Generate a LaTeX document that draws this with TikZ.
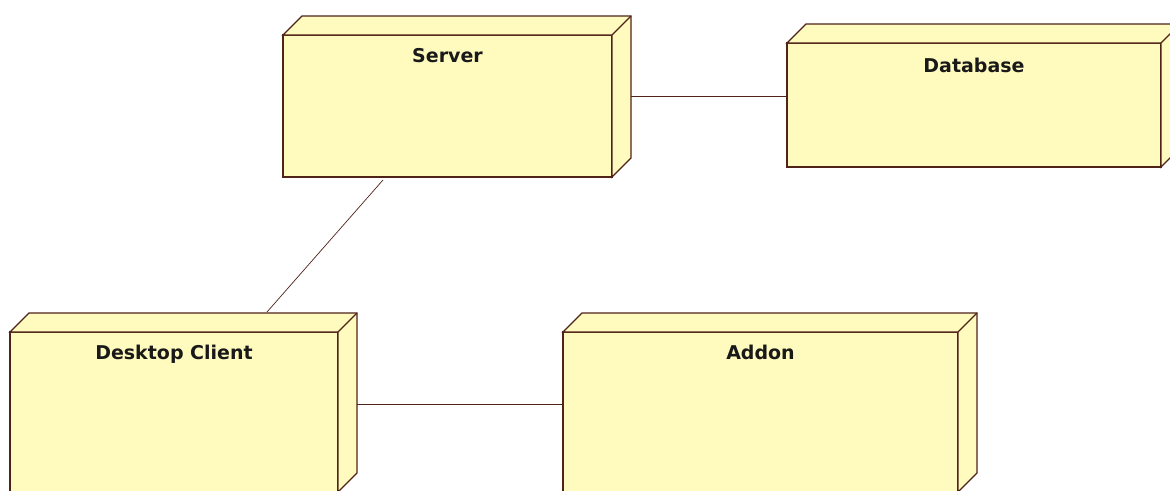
\documentclass[tikz,border=0pt]{standalone}
\usepackage{fontspec}
\setmainfont{DejaVu Sans}
\usetikzlibrary{calc}
\definecolor{nodefill}{RGB}{255,250,190}
\definecolor{nodeline}{RGB}{80,35,25}
\definecolor{txt}{RGB}{25,25,25}
\tikzset{
  front/.style={draw=nodeline, fill=nodefill, line width=1.3pt, inner sep=0pt, outer sep=0pt,
    line join=miter, rectangle},
  side/.style={draw=nodeline, fill=nodefill, line width=1.3pt, line join=miter},
  nodetitle/.style={font=\fontsize{19}{22}\selectfont\bfseries, text=txt, anchor=north, yshift=-13pt, inner sep=0pt},
  conn/.style={draw=nodeline, line width=1pt}
}
\begin{document}
\begin{tikzpicture}[x=1pt, y=-1pt]
\clip (0,0) rectangle (1170,490);
\fill[white] (0,0) rectangle (1170,490);
% front faces
\node[front, minimum width=329pt, minimum height=142pt] (server) at (447.5,106) {};
\node[front, minimum width=374pt, minimum height=124pt] (database) at (974,105) {};
\node[front, minimum width=328pt, minimum height=160pt] (client) at (174,412) {};
\node[front, minimum width=395pt, minimum height=160pt] (addon) at (760.5,412) {};
% 3D extrusions
\foreach \n in {server,database,client,addon} {
  \filldraw[side] (\n.north west) -- ++(19,-19) -- ($(\n.north east)+(19,-19)$)
    -- ($(\n.south east)+(19,-19)$) -- (\n.south east) -- (\n.north east) -- cycle;
  \draw[side] (\n.north east) -- ++(19,-19);
}
% titles
\node[nodetitle] (tserver) at (server.north) {Server};
\node[nodetitle, yshift=-2pt] (tdatabase) at (database.north) {Database};
\node[nodetitle] (tclient) at (client.north) {Desktop Client};
\node[nodetitle] (taddon) at (addon.north) {Addon};
% connectors
\coordinate (sd) at ($(server.east)+(19,-10)$);
\draw[conn] (sd) -- (sd -| database.west);
\coordinate (ca) at ($(client.east)+(19,-8)$);
\draw[conn] (ca) -- (ca -| addon.west);
\coordinate (sc1) at ($(server.south west)+(100,3)$);
\coordinate (sc2) at ($(client.north west)+(257,-20)$);
\draw[conn, line width=0.7pt] (sc1) -- (sc2);
\end{tikzpicture}
\end{document}
